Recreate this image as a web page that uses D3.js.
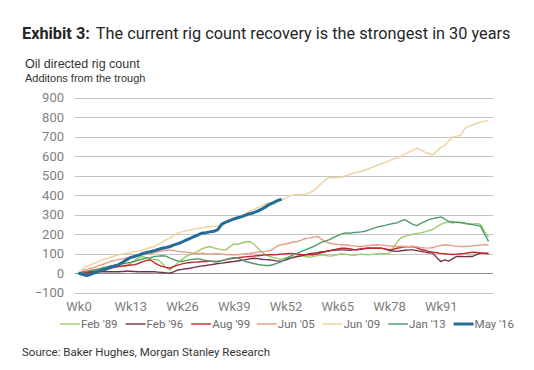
<!DOCTYPE html>
<html>
<head>
<meta charset="utf-8">
<script src="https://cdn.jsdelivr.net/npm/d3@7"></script>
<style>
  body { margin: 0; background: #fff; }
  svg { display: block; }
</style>
</head>
<body>
<div id="container"></div>
<script>
var width = 534,
    height = 370;

// data (rigs added since the trough, by week)
var seriesNames = ["Feb '89", "Feb '96", "Aug '99", "Jun '05", "Jun '09", "Jan '13", "May '16"];
var seriesColors = ["#9dcb6b", "#6d3352", "#c4262a", "#e69c86", "#ecd29e", "#4f9a6c", "#236c98"];

var feb89 = [0,4,8,12,16,20,24,28,30,32,34,34,36,50,65,78,86,80,75,70,69,50,30,17,35,55,70,85,95,103,
  112,125,132,137,130,125,120,120,135,150,148,155,160,163,150,130,110,95,86,80,75,72,78,82,85,88,90,86,82,85,
  90,95,92,88,90,95,100,98,95,92,95,98,96,95,98,100,102,100,102,130,160,182,189,195,200,204,207,212,218,224,
  238,250,258,264,267,262,258,255,252,250,255,250,215,185];
var feb96 = [0,2,3,5,6,7,8,8,8,8,8,9,10,10,9,8,8,8,8,8,6,4,2,0,8,17,20,23,26,30,
  34,38,40,43,46,50,52,55,58,60,63,66,70,74,77,75,72,70,69,66,62,62,68,75,80,86,90,95,100,103,
  106,110,112,115,118,119,120,120,118,120,122,124,126,128,129,129,129,124,118,114,112,115,118,120,120,116,112,108,105,103,
  80,60,69,62,75,86,86,85,86,86,95,103,103,103];
var aug99 = [0,3,5,8,10,12,15,20,25,30,34,38,40,42,43,50,58,65,69,55,43,35,30,26,35,42,48,52,55,57,
  58,60,60,62,60,60,65,70,74,77,80,82,84,86,88,90,92,94,95,95,96,98,100,102,100,98,96,95,95,95,
  100,105,110,115,120,125,128,129,126,122,120,124,128,130,129,128,129,125,120,122,128,132,135,136,137,130,122,118,112,108,
  105,102,100,98,96,98,100,102,105,108,106,104,102,100];
var jun05 = [0,10,20,25,30,38,45,52,60,65,70,74,78,80,85,90,95,98,100,105,110,115,118,120,116,112,110,108,105,102,
  100,103,100,98,100,100,98,96,95,95,95,98,100,102,105,108,110,112,115,125,140,146,150,155,160,163,170,178,180,185,
  189,175,162,155,150,148,146,146,142,140,138,137,140,142,145,146,144,142,140,138,137,138,137,136,137,135,132,130,129,132,
  138,142,146,144,140,138,137,137,138,140,142,144,146,146];
var jun09 = [0,20,35,43,52,60,69,75,82,88,95,98,102,105,110,112,118,125,132,137,148,160,172,181,195,207,212,218,222,226,
  230,232,236,238,240,241,250,260,270,278,284,295,306,318,327,336,345,354,362,365,370,375,385,396,400,404,402,405,412,422,
  440,460,478,491,488,490,491,498,505,512,517,522,530,534,545,552,560,568,575,586,590,600,611,620,630,641,632,620,612,606,
  625,645,654,678,698,702,706,741,752,760,768,775,778,783];
var jan13 = [0,5,10,15,18,22,28,32,38,42,45,48,52,55,60,68,72,78,80,85,88,90,88,78,70,62,60,65,70,72,
  75,70,66,62,60,60,65,70,76,80,78,70,60,55,50,45,42,40,40,45,52,60,72,85,95,103,112,120,128,137,
  148,158,165,172,182,192,200,207,205,208,210,212,215,222,230,236,241,245,250,255,258,268,275,262,250,244,255,265,275,280,
  284,289,278,265,258,262,260,258,252,250,245,241,200,163];
var may16 = [0,-5,-12,-6,2,10,17,22,30,36,43,55,68,80,86,92,100,106,110,115,122,128,132,137,145,152,160,170,178,188,
  196,205,208,212,215,224,252,262,270,278,284,290,298,305,310,318,328,340,353,362,372,380];

var seriesValues = [feb89, feb96, aug99, jun05, jun09, jan13, may16];

var yTicks = [-100, 0, 100, 200, 300, 400, 500, 600, 700, 800, 900];
var xTickWeeks = [0, 13, 26, 39, 52, 65, 78, 91];
var xTickLabels = ["Wk0", "Wk13", "Wk26", "Wk39", "Wk52", "Wk65", "Wk78", "Wk91"];

var svg = d3.select("#container")
            .append("svg")
            .attr("width", width)
            .attr("height", height);

var x = d3.scaleLinear().domain([0, 104]).range([78.5, 492.5]);
var y = d3.scaleLinear().domain([-100, 900]).range([292.8, 97.5]);

var gridLeft = 75,
    gridRight = 493;

// titles
var title = svg.append("text")
   .attr("x", 22).attr("y", 39)
   .style("font-family", "Roboto, sans-serif")
   .style("font-size", "16.3px")
   .style("fill", "#262626");
title.append("tspan").style("font-weight", "bold").text("Exhibit 3:");
title.append("tspan").attr("dx", 6).text("The current rig count recovery is the strongest in 30 years");

svg.append("text")
   .attr("x", 25).attr("y", 67.5)
   .style("font-family", "'Liberation Sans', Arial, sans-serif")
   .style("font-size", "12.5px")
   .style("fill", "#333")
   .text("Oil directed rig count");

svg.append("text")
   .attr("x", 25).attr("y", 82)
   .style("font-family", "'Liberation Sans', Arial, sans-serif")
   .style("font-size", "11px")
   .style("fill", "#333")
   .text("Additons from the trough");

// gridlines
svg.append("g").attr("class", "grid")
   .selectAll("line")
   .data(yTicks)
   .enter().append("line")
   .attr("x1", gridLeft).attr("x2", gridRight)
   .attr("y1", function(d) { return Math.round(y(d)) + 0.5; })
   .attr("y2", function(d) { return Math.round(y(d)) + 0.5; })
   .style("stroke", function(d) { return d === 0 ? "#8c8c8c" : "#c4c4c4"; })
   .style("stroke-width", 1);

// y axis labels
var yAxis = d3.axisLeft(y).tickValues(yTicks).tickSize(0).tickPadding(0);
var yg = svg.append("g")
   .attr("transform", "translate(64,0)")
   .call(yAxis);
yg.select(".domain").remove();
yg.selectAll("text")
  .style("font-family", "Roboto, sans-serif")
  .style("font-size", "13px")
  .style("fill", "#7f7f7f");

// x axis labels
var xAxis = d3.axisBottom(x).tickValues(xTickWeeks)
   .tickFormat(function(d, i) { return xTickLabels[i]; })
   .tickSize(0).tickPadding(0);
var xg = svg.append("g")
   .attr("transform", "translate(0,301.5)")
   .call(xAxis);
xg.select(".domain").remove();
xg.selectAll("text")
  .style("font-family", "Roboto, sans-serif")
  .style("font-size", "13px")
  .style("fill", "#7f7f7f");

// lines
var line = d3.line()
   .x(function(d, i) { return x(i); })
   .y(function(d) { return y(d); });

svg.append("g").attr("class", "series")
   .selectAll("path")
   .data(seriesValues)
   .enter().append("path")
   .attr("d", line)
   .style("fill", "none")
   .style("stroke", function(d, i) { return seriesColors[i]; })
   .style("stroke-width", function(d, i) { return i === 6 ? 3 : 1.4; })
   .style("stroke-linejoin", "round");

// legend
var legend = svg.append("g").attr("class", "legend")
   .attr("transform", "translate(60,324)");

var item = legend.selectAll("g")
   .data(seriesNames)
   .enter().append("g")
   .attr("transform", function(d, i) { return "translate(" + (i * 65.6) + ",0)"; });

item.append("line")
   .attr("x1", 0).attr("x2", 20)
   .attr("y1", 0).attr("y2", 0)
   .style("stroke", function(d, i) { return seriesColors[i]; })
   .style("stroke-width", function(d, i) { return i === 6 ? 3 : 1.4; });

item.append("text")
   .attr("x", 21).attr("y", 4)
   .style("font-family", "Roboto, sans-serif")
   .style("font-size", "11.5px")
   .style("fill", "#6b6b6b")
   .text(function(d) { return d; });

// source
svg.append("text")
   .attr("x", 22).attr("y", 356)
   .style("font-family", "Roboto, sans-serif")
   .style("font-size", "11.5px")
   .style("fill", "#333")
   .text("Source: Baker Hughes, Morgan Stanley Research");
</script>
</body>
</html>
